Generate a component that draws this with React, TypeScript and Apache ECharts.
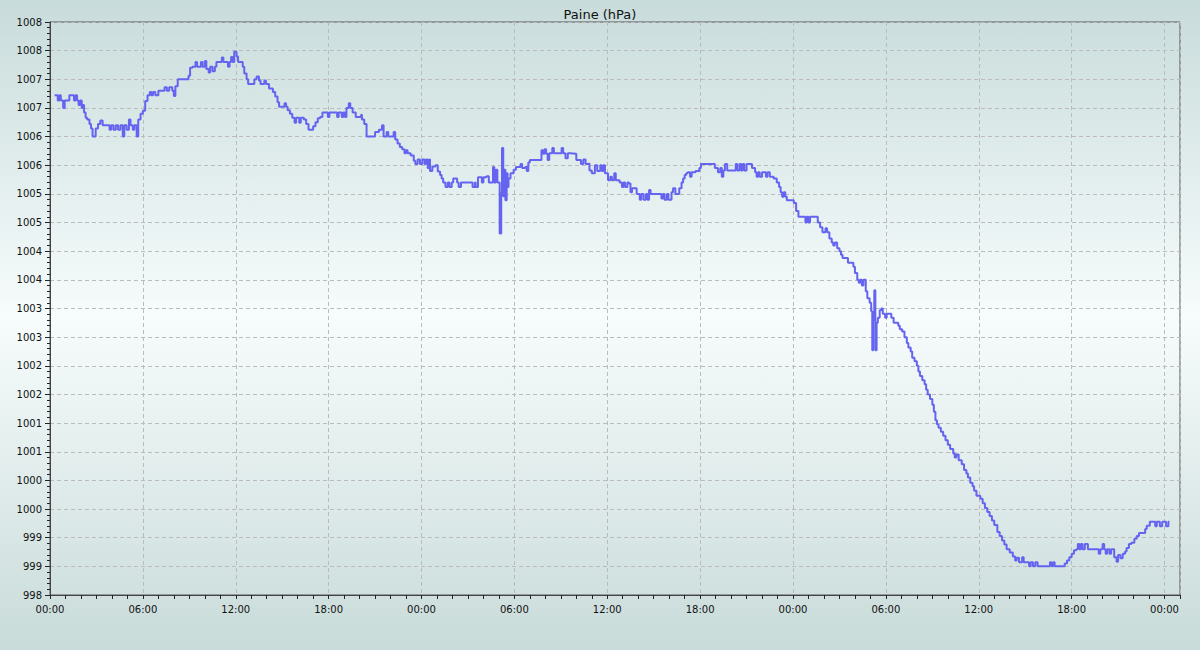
import React, { useEffect, useRef } from 'react';
import * as echarts from 'echarts';

const TITLE = 'Paine (hPa)';
const Y_MIN = 998;
const Y_MAX = 1008;
const Y_STEP = 0.5;
const X_MAX_HOURS = 73;
const X_LABEL_STEP = 6;

// [hours since start, hPa]
const day1: [number, number][] = [
  [0.30, 1006.72], [0.50, 1006.63], [0.60, 1006.72], [0.70, 1006.63], [0.85, 1006.50], [0.95, 1006.63],
  [1.25, 1006.72], [1.55, 1006.63], [1.65, 1006.72], [1.75, 1006.63], [1.85, 1006.55], [1.95, 1006.63],
  [2.05, 1006.50], [2.10, 1006.55], [2.20, 1006.42], [2.30, 1006.33], [2.40, 1006.30], [2.55, 1006.22],
  [2.65, 1006.14], [2.75, 1006.00], [2.95, 1006.14], [3.10, 1006.22], [3.25, 1006.28], [3.40, 1006.20],
  [3.85, 1006.12], [3.95, 1006.20], [4.10, 1006.12], [4.25, 1006.20], [4.40, 1006.12], [4.55, 1006.20],
  [4.70, 1006.00], [4.80, 1006.20], [4.95, 1006.12], [5.10, 1006.30], [5.20, 1006.20], [5.35, 1006.12],
  [5.45, 1006.20], [5.60, 1006.00], [5.70, 1006.30], [5.85, 1006.40], [6.00, 1006.45], [6.15, 1006.62],
  [6.30, 1006.72], [6.45, 1006.78], [6.55, 1006.72], [6.65, 1006.78], [6.80, 1006.72], [7.00, 1006.80],
  [7.40, 1006.86], [7.55, 1006.80], [7.70, 1006.86], [7.90, 1006.80], [8.00, 1006.71], [8.10, 1006.88],
  [8.25, 1007.00], [8.95, 1007.06], [9.05, 1007.20], [9.20, 1007.22], [9.40, 1007.30], [9.50, 1007.22],
  [9.75, 1007.30], [9.85, 1007.22], [10.00, 1007.32], [10.10, 1007.18], [10.25, 1007.12], [10.35, 1007.22],
  [10.50, 1007.14], [10.65, 1007.22], [10.75, 1007.30], [11.10, 1007.38], [11.20, 1007.30], [11.50, 1007.22],
  [11.60, 1007.30], [11.70, 1007.39], [11.80, 1007.30], [11.90, 1007.48], [12.05, 1007.40], [12.15, 1007.30],
  [12.45, 1007.22], [12.55, 1007.10], [12.70, 1007.00], [12.80, 1006.92], [13.20, 1007.00], [13.35, 1007.05],
  [13.50, 1006.98], [13.60, 1006.92], [13.85, 1006.98], [13.95, 1006.92], [14.15, 1006.84], [14.40, 1006.78],
  [14.55, 1006.70], [14.70, 1006.60], [14.80, 1006.52], [15.15, 1006.58], [15.25, 1006.52], [15.35, 1006.46],
  [15.50, 1006.40], [15.65, 1006.33], [15.80, 1006.24], [15.90, 1006.33], [16.10, 1006.24], [16.20, 1006.33],
  [16.40, 1006.30], [16.55, 1006.22], [16.70, 1006.12], [17.00, 1006.18], [17.15, 1006.25], [17.30, 1006.32],
  [17.45, 1006.34], [17.60, 1006.42], [17.95, 1006.34], [18.05, 1006.42], [18.55, 1006.34], [18.65, 1006.42],
  [18.85, 1006.34], [18.95, 1006.42], [19.05, 1006.34], [19.15, 1006.50], [19.30, 1006.58], [19.40, 1006.50],
  [19.55, 1006.42], [19.75, 1006.34], [20.10, 1006.38], [20.15, 1006.30], [20.30, 1006.22], [20.45, 1006.00],
  [21.00, 1006.08], [21.25, 1006.12], [21.45, 1006.20], [21.55, 1006.00], [21.75, 1006.08], [21.85, 1006.00],
  [22.20, 1006.08], [22.30, 1005.95], [22.45, 1005.88], [22.60, 1005.82], [22.75, 1005.78], [22.90, 1005.71],
  [23.00, 1005.76], [23.10, 1005.71], [23.30, 1005.67], [23.50, 1005.58], [23.60, 1005.52], [23.75, 1005.60],
  [23.90, 1005.52],
];

const day2: [number, number][] = [
  [24.05, 1005.60], [24.20, 1005.52], [24.30, 1005.60], [24.40, 1005.45], [24.50, 1005.60], [24.55, 1005.40],
  [24.70, 1005.48], [24.90, 1005.50], [25.05, 1005.39], [25.20, 1005.33], [25.30, 1005.27], [25.40, 1005.20],
  [25.55, 1005.12], [25.70, 1005.20], [25.80, 1005.12], [25.95, 1005.20], [26.05, 1005.27], [26.30, 1005.20],
  [26.40, 1005.12], [26.55, 1005.20], [27.30, 1005.12], [27.45, 1005.20], [27.50, 1005.12], [27.65, 1005.29],
  [27.90, 1005.20], [28.00, 1005.29], [28.20, 1005.31], [28.35, 1005.20], [28.62, 1005.47], [28.70, 1005.20],
  [28.80, 1005.42], [28.90, 1005.20], [29.05, 1004.31], [29.15, 1005.03], [29.20, 1005.80], [29.28, 1004.96],
  [29.35, 1005.42], [29.42, 1004.89], [29.50, 1005.36], [29.56, 1005.12], [29.62, 1005.27], [29.75, 1005.36],
  [29.95, 1005.42], [30.10, 1005.47], [30.40, 1005.52], [30.50, 1005.45], [30.70, 1005.47], [30.80, 1005.40],
  [30.90, 1005.55], [31.00, 1005.59], [31.75, 1005.76], [31.85, 1005.70], [31.95, 1005.78], [32.05, 1005.70],
  [32.15, 1005.59], [32.25, 1005.71], [32.45, 1005.80], [32.55, 1005.71], [33.05, 1005.80], [33.15, 1005.71],
  [33.30, 1005.62], [33.45, 1005.71], [33.60, 1005.70], [34.00, 1005.59], [34.30, 1005.52], [34.45, 1005.60],
  [34.60, 1005.52], [34.75, 1005.53], [34.85, 1005.41], [35.00, 1005.36], [35.20, 1005.50], [35.35, 1005.40],
  [35.45, 1005.40], [35.55, 1005.50], [35.65, 1005.40], [35.75, 1005.50], [35.85, 1005.36], [36.05, 1005.24],
  [36.20, 1005.30], [36.30, 1005.24], [36.45, 1005.36], [36.55, 1005.24], [36.80, 1005.20], [36.95, 1005.12],
  [37.05, 1005.20], [37.15, 1005.12], [37.30, 1005.20], [37.40, 1005.18], [37.50, 1005.03], [37.60, 1005.10],
  [37.85, 1005.10], [37.90, 1005.00], [38.10, 1004.90], [38.20, 1005.00], [38.35, 1004.90], [38.50, 1005.00],
  [38.60, 1004.90], [38.70, 1005.07], [38.80, 1005.00], [39.50, 1004.92], [39.60, 1005.00], [39.70, 1004.90],
  [39.85, 1005.00], [39.95, 1004.90], [40.15, 1005.03], [40.25, 1005.10], [40.40, 1005.00], [40.65, 1005.10],
  [40.80, 1005.20], [40.90, 1005.27], [41.00, 1005.33], [41.10, 1005.36], [41.20, 1005.38], [41.35, 1005.30],
  [41.45, 1005.38], [41.70, 1005.40], [41.95, 1005.45], [42.05, 1005.52], [42.95, 1005.45], [43.15, 1005.38],
  [43.30, 1005.45], [43.40, 1005.30], [43.50, 1005.41], [43.60, 1005.52], [43.75, 1005.41], [44.30, 1005.52],
  [44.40, 1005.41], [44.55, 1005.52], [44.65, 1005.41], [44.75, 1005.52], [44.85, 1005.41], [45.00, 1005.52],
  [45.35, 1005.45], [45.55, 1005.38], [45.65, 1005.30], [45.75, 1005.38], [45.85, 1005.30], [46.00, 1005.38],
  [46.25, 1005.30], [46.35, 1005.38], [46.50, 1005.30], [46.75, 1005.27], [46.95, 1005.20], [47.10, 1005.12],
  [47.20, 1005.03], [47.30, 1004.95], [47.40, 1005.03], [47.50, 1004.95], [47.60, 1004.89],
];

const day3: [number, number][] = [
  [48.05, 1004.84], [48.20, 1004.70], [48.35, 1004.60], [48.80, 1004.50], [48.90, 1004.60], [49.00, 1004.50],
  [49.10, 1004.60], [49.60, 1004.50], [49.75, 1004.42], [49.90, 1004.33], [50.10, 1004.40], [50.20, 1004.33],
  [50.35, 1004.22], [50.50, 1004.15], [50.60, 1004.10], [50.70, 1004.15], [50.85, 1004.05], [51.00, 1004.00],
  [51.10, 1003.94], [51.20, 1003.88], [51.55, 1003.80], [51.90, 1003.73], [52.00, 1003.62], [52.15, 1003.50],
  [52.25, 1003.45], [52.35, 1003.50], [52.45, 1003.40], [52.55, 1003.50], [52.70, 1003.30], [52.80, 1003.18],
  [52.95, 1003.10], [53.05, 1002.95], [53.12, 1002.27], [53.18, 1002.80], [53.25, 1003.32], [53.32, 1002.27],
  [53.40, 1002.75], [53.48, 1002.84], [53.60, 1002.97], [53.70, 1003.00], [53.80, 1002.91], [53.95, 1002.84],
  [54.05, 1002.91], [54.35, 1002.84], [54.50, 1002.75], [54.80, 1002.70], [54.90, 1002.64], [55.05, 1002.60],
  [55.20, 1002.50], [55.35, 1002.40], [55.45, 1002.32], [55.60, 1002.25], [55.70, 1002.14], [55.85, 1002.08],
  [56.00, 1002.00], [56.10, 1001.90], [56.20, 1001.82], [56.35, 1001.75], [56.50, 1001.68], [56.60, 1001.58],
  [56.70, 1001.50], [56.85, 1001.42], [57.00, 1001.32], [57.10, 1001.20], [57.20, 1001.05], [57.30, 1000.98],
  [57.40, 1000.92], [57.55, 1000.85], [57.70, 1000.78], [57.85, 1000.70], [58.00, 1000.62], [58.15, 1000.55],
  [58.35, 1000.47], [58.45, 1000.40], [58.55, 1000.45], [58.70, 1000.35], [58.90, 1000.28], [59.05, 1000.18],
  [59.20, 1000.12], [59.30, 1000.05], [59.45, 999.96], [59.60, 999.90], [59.70, 999.82], [59.85, 999.73],
  [60.10, 999.68], [60.25, 999.60], [60.40, 999.52], [60.55, 999.45], [60.70, 999.38], [60.85, 999.30],
  [61.00, 999.22], [61.20, 999.10], [61.35, 999.03], [61.50, 998.95], [61.65, 998.88], [61.80, 998.80],
  [62.00, 998.74], [62.20, 998.67], [62.35, 998.60], [62.45, 998.65], [62.60, 998.57], [62.80, 998.66],
  [62.90, 998.57], [63.10, 998.57], [63.25, 998.50], [63.35, 998.57], [63.50, 998.50], [63.65, 998.57],
  [63.80, 998.50], [64.60, 998.57], [64.70, 998.50], [64.80, 998.57], [64.90, 998.50], [65.55, 998.55],
  [65.70, 998.60], [65.85, 998.66], [66.00, 998.72], [66.15, 998.78], [66.30, 998.80], [66.40, 998.89],
  [66.50, 998.80], [66.60, 998.89], [66.70, 998.80], [66.85, 998.89], [67.05, 998.80], [67.75, 998.72],
  [67.85, 998.80], [68.00, 998.89], [68.10, 998.80], [68.20, 998.72], [68.30, 998.80], [68.45, 998.72],
  [68.55, 998.80], [68.75, 998.66], [68.90, 998.58], [69.00, 998.70], [69.15, 998.64], [69.30, 998.72],
  [69.45, 998.76], [69.55, 998.82], [69.70, 998.89], [69.85, 998.91], [70.05, 998.98], [70.20, 999.03],
  [70.35, 999.08], [70.75, 999.15], [70.85, 999.21], [71.05, 999.28], [71.40, 999.20], [71.50, 999.28],
  [71.70, 999.20], [71.85, 999.28], [72.10, 999.20], [72.25, 999.28], [72.32, 999.28],
];

const FONT = '"DejaVu Sans", Verdana, sans-serif';

function hourLabel(v: number): string {
  if (Math.abs(v % X_LABEL_STEP) > 1e-6) return '';
  const h = Math.round(v) % 24;
  return (h < 10 ? '0' : '') + h + ':00';
}

export default function App() {
  const ref = useRef<HTMLDivElement>(null);
  useEffect(() => {
    const chart = echarts.init(ref.current!, null, { renderer: 'svg' });
    const data = [...day1, ...day2, ...day3];
    chart.setOption({
      animation: false,
      backgroundColor: 'transparent',
      title: {
        text: TITLE,
        left: 'center',
        top: 3,
        textStyle: { fontFamily: FONT, fontSize: 13, fontWeight: 'normal', color: '#111' },
      },
      grid: {
        left: 50,
        right: 20,
        top: 22,
        bottom: 55,
        show: true,
        borderColor: '#555',
        borderWidth: 1,
        backgroundColor: 'transparent',
      },
      xAxis: [
        {
          type: 'value',
          min: 0,
          max: X_MAX_HOURS,
          interval: X_LABEL_STEP,
          position: 'bottom',
          axisLine: { show: true, lineStyle: { color: '#444', width: 1 } },
          axisTick: { show: true, length: 4, lineStyle: { color: '#222' } },
          axisLabel: {
            formatter: hourLabel,
            fontFamily: FONT,
            fontSize: 10,
            color: '#111',
            margin: 9,
            showMaxLabel: false,
          },
          splitLine: { show: true, lineStyle: { color: '#bbbbbb', type: [4, 3], width: 1 } },
        },
        {
          type: 'value',
          min: 0,
          max: X_MAX_HOURS,
          interval: 1,
          position: 'bottom',
          axisLine: { show: false },
          axisTick: { show: true, length: 4, lineStyle: { color: '#222' } },
          axisLabel: { show: false },
          splitLine: { show: false },
        },
      ],
      yAxis: {
        type: 'value',
        min: Y_MIN,
        max: Y_MAX,
        interval: Y_STEP,
        axisLine: { show: true, lineStyle: { color: '#444', width: 1 } },
        axisTick: { show: true, length: 5, lineStyle: { color: '#222' } },
        minorTick: { show: true, splitNumber: 5, length: 3, lineStyle: { color: '#222' } },
        axisLabel: {
          formatter: (v: number) => String(Math.round(v)),
          fontFamily: FONT,
          fontSize: 10,
          color: '#111',
          margin: 8,
        },
        splitLine: { show: true, lineStyle: { color: '#bbbbbb', type: [4, 3], width: 1 } },
      },
      series: [
        {
          type: 'line',
          xAxisIndex: 0,
          step: 'end',
          showSymbol: false,
          data,
          lineStyle: { color: '#6464f0', width: 2 },
        },
      ],
    });
    return () => chart.dispose();
  }, []);
  return (
    <div
      ref={ref}
      style={{
        position: 'absolute',
        left: 0,
        top: 0,
        width: 1200,
        height: 650,
        background: 'linear-gradient(to bottom, #c8dcdb 0%, #f7fcfc 49%, #c8dbd9 100%)',
      }}
    />
  );
}
